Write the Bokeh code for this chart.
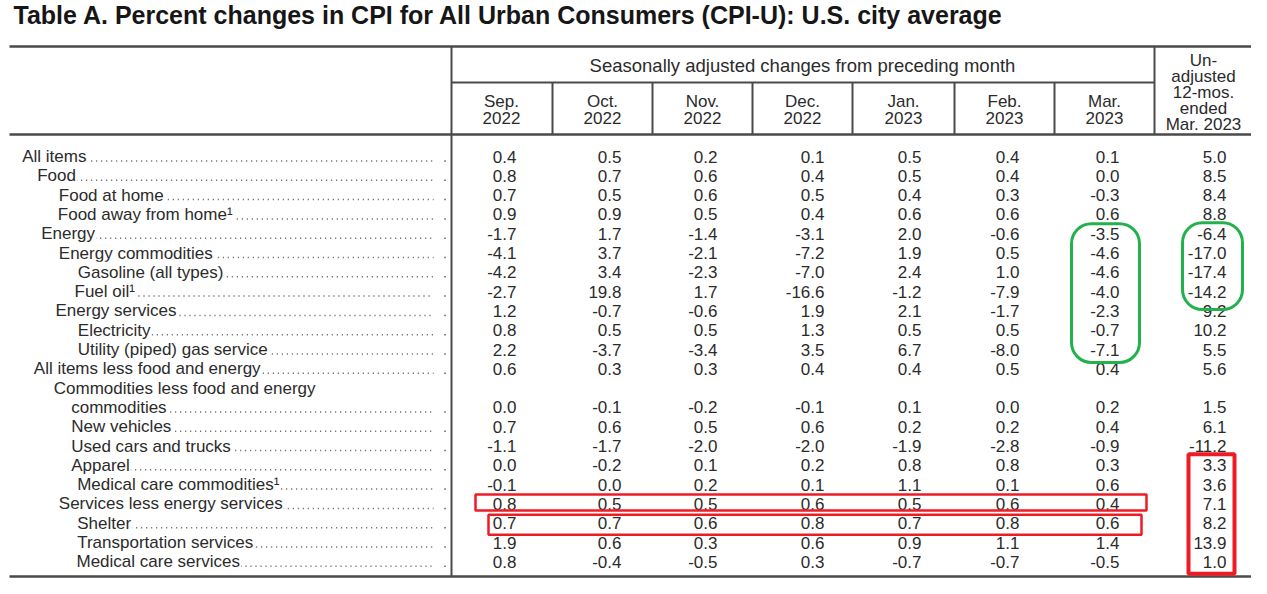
from bokeh.plotting import figure
from bokeh.models import Range1d
from bokeh.embed import file_html
from bokeh.resources import INLINE
from bokeh.core.properties import value

# ---------------- data ----------------
title = "Table A. Percent changes in CPI for All Urban Consumers (CPI-U): U.S. city average"
group_header = "Seasonally adjusted changes from preceding month"
month_names = ["Sep.", "Oct.", "Nov.", "Dec.", "Jan.", "Feb.", "Mar."]
month_years = ["2022", "2022", "2022", "2022", "2023", "2023", "2023"]
last_header = ["Un-", "adjusted", "12-mos.", "ended", "Mar. 2023"]

labels = [
    "All items", "Food", "Food at home", "Food away from home\u00b9", "Energy",
    "Energy commodities", "Gasoline (all types)", "Fuel oil\u00b9", "Energy services",
    "Electricity", "Utility (piped) gas service", "All items less food and energy",
    "Commodities less food and energy", "commodities", "New vehicles",
    "Used cars and trucks", "Apparel", "Medical care commodities\u00b9",
    "Services less energy services", "Shelter", "Transportation services",
    "Medical care services",
]
sep22 = [0.4, 0.8, 0.7, 0.9, -1.7, -4.1, -4.2, -2.7, 1.2, 0.8, 2.2, 0.6, None, 0.0, 0.7, -1.1, 0.0, -0.1, 0.8, 0.7, 1.9, 0.8]
oct22 = [0.5, 0.7, 0.5, 0.9, 1.7, 3.7, 3.4, 19.8, -0.7, 0.5, -3.7, 0.3, None, -0.1, 0.6, -1.7, -0.2, 0.0, 0.5, 0.7, 0.6, -0.4]
nov22 = [0.2, 0.6, 0.6, 0.5, -1.4, -2.1, -2.3, 1.7, -0.6, 0.5, -3.4, 0.3, None, -0.2, 0.5, -2.0, 0.1, 0.2, 0.5, 0.6, 0.3, -0.5]
dec22 = [0.1, 0.4, 0.5, 0.4, -3.1, -7.2, -7.0, -16.6, 1.9, 1.3, 3.5, 0.4, None, -0.1, 0.6, -2.0, 0.2, 0.1, 0.6, 0.8, 0.6, 0.3]
jan23 = [0.5, 0.5, 0.4, 0.6, 2.0, 1.9, 2.4, -1.2, 2.1, 0.5, 6.7, 0.4, None, 0.1, 0.2, -1.9, 0.8, 1.1, 0.5, 0.7, 0.9, -0.7]
feb23 = [0.4, 0.4, 0.3, 0.6, -0.6, 0.5, 1.0, -7.9, -1.7, 0.5, -8.0, 0.5, None, 0.0, 0.2, -2.8, 0.8, 0.1, 0.6, 0.8, 1.1, -0.7]
mar23 = [0.1, 0.0, -0.3, 0.6, -3.5, -4.6, -4.6, -4.0, -2.3, -0.7, -7.1, 0.4, None, 0.2, 0.4, -0.9, 0.3, 0.6, 0.4, 0.6, 1.4, -0.5]
yoy12 = [5.0, 8.5, 8.4, 8.8, -6.4, -17.0, -17.4, -14.2, 9.2, 10.2, 5.5, 5.6, None, 1.5, 6.1, -11.2, 3.3, 3.6, 7.1, 8.2, 13.9, 1.0]

# ---------------- layout (pixel-like data coordinates) ----------------
indent_x = [21.7, 36.7, 58.3, 57.3, 40.7, 58.3, 77.3, 74, 55, 77.3, 77.3, 33.3,
            53.3, 70.7, 70.7, 70.7, 70.7, 76.7, 58.3, 76.7, 76.7, 76]
has_dots = [i != 12 for i in range(len(labels))]
row_y0, row_step = 157.0, 19.3
col_right = [517, 622, 718, 825, 922, 1020, 1120, 1227]
col_center = [502, 603, 703, 803, 904, 1005, 1105]
last_center = 1204
separators_x = [553, 653, 753, 853, 955, 1055]
bottom_rule = 577

FONT = value("Liberation Sans")
TXT = "#2b2b2b"
LINE = "#4a4a4a"
FS = "17px"

p = figure(width=1251, height=578, output_backend="svg", toolbar_location=None,
           x_range=Range1d(1, 1252), y_range=Range1d(579, 1),
           min_border=0, outline_line_color=None, background_fill_color="white")
p.axis.visible = False
p.grid.visible = False

ys = [row_y0 + row_step * i for i in range(len(labels))]

# title
p.text(x=[14], y=[1.5], text=[title], text_font=FONT, text_font_style="bold",
       text_font_size="25px", text_color="#161616", text_baseline="top",
       text_align="left")

# rules
p.segment(x0=[10, 10, 10], y0=[47, 135, bottom_rule], x1=[1258, 1258, 1253],
          y1=[47, 135, bottom_rule], line_color=LINE, line_width=2.5)
p.segment(x0=[452], y0=[83], x1=[1155], y1=[83], line_color=LINE, line_width=2)
p.segment(x0=[452, 1155], y0=[47, 47], x1=[452, 1155], y1=[bottom_rule, 135],
          line_color=LINE, line_width=2)
p.segment(x0=separators_x, y0=[83] * 6, x1=separators_x, y1=[135] * 6,
          line_color=LINE, line_width=2)

# headers
p.text(x=[803], y=[66], text=[group_header], text_font=FONT, text_font_size="18.5px",
       text_color=TXT, text_align="center", text_baseline="middle")
p.text(x=col_center, y=[102] * 7, text=month_names, text_font=FONT, text_font_size=FS,
       text_color=TXT, text_align="center", text_baseline="middle")
p.text(x=col_center, y=[118] * 7, text=month_years, text_font=FONT, text_font_size=FS,
       text_color=TXT, text_align="center", text_baseline="middle")
p.text(x=[last_center] * 5, y=[60.5, 76.5, 92.5, 108.5, 124.5], text=last_header,
       text_font=FONT, text_font_size=FS, text_color=TXT, text_align="center",
       text_baseline="middle")

# dot leaders
dot_rows = [i for i in range(len(labels)) if has_dots[i]]
p.segment(x0=[indent_x[i] + 5 for i in dot_rows], y0=[ys[i] + 4.5 for i in dot_rows],
          x1=[434] * len(dot_rows), y1=[ys[i] + 4.5 for i in dot_rows],
          line_color="#555555", line_width=1.5, line_dash="1 4")
p.segment(x0=[444.8] * len(dot_rows), y0=[ys[i] + 4.5 for i in dot_rows],
          x1=[446.2] * len(dot_rows), y1=[ys[i] + 4.5 for i in dot_rows],
          line_color="#555555", line_width=1.5)

# row labels (white background hides the leader under the text)
p.text(x=indent_x, y=ys, text=labels, text_font=FONT, text_font_size=FS, text_color=TXT,
       text_align="left", text_baseline="middle", background_fill_color="white",
       padding=1)

# values
for col, xr in zip([sep22, oct22, nov22, dec22, jan23, feb23, mar23, yoy12], col_right):
    idx = [i for i, v in enumerate(col) if v is not None]
    p.text(x=[xr] * len(idx), y=[ys[i] for i in idx], text=[f"{col[i]:.1f}" for i in idx],
           text_font=FONT, text_font_size=FS, text_color=TXT, text_align="right",
           text_baseline="middle")

# highlight annotations (positioned relative to the rows they mark)
GREEN = "#22b14c"
RED = "#ed1c24"
p.quad(left=[1072, 1183], right=[1140, 1243], top=[ys[4] - 10, ys[4] - 11],
       bottom=[ys[10] + 13, ys[7] + 18], fill_color=None, line_color=GREEN,
       line_width=3, border_radius=20)
p.quad(left=[476, 489], right=[1147, 1142], top=[ys[18] - 9.5, ys[19] - 8.5],
       bottom=[ys[18] + 6.5, ys[19] + 11.5], fill_color=None, line_color=RED, line_width=2.5)
p.quad(left=[1189], right=[1235], top=[ys[16] - 11], bottom=[ys[21] + 12],
       fill_color=None, line_color=RED, line_width=4)

open("out.html", "w").write(file_html(p, INLINE))
